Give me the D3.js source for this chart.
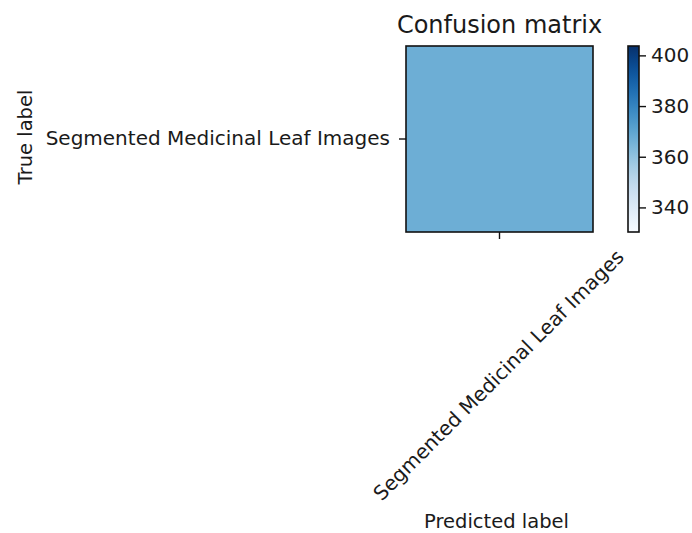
<!DOCTYPE html>
<html>
<head>
<meta charset="utf-8">
<script src="https://cdn.jsdelivr.net/npm/d3@7"></script>
<style>
  body { margin: 0; background: #fff; }
  text { font-family: "DejaVu Sans", sans-serif; fill: #1a1a1a; }
</style>
</head>
<body>
<div id="viz"></div>
<script>
// data
const classes = ['Segmented Medicinal Leaf Images'];
const matrix = [[367]];
const cbarTicks = [340, 360, 380, 400];

const width = 692;
const height = 533;
const tickFont = 20;
const tickLen = 7;

const svg = d3.select('#viz')
      .append('svg')
      .attr('width', width)
      .attr('height', height);

// plot box
const boxL = 406, boxR = 593, boxT = 46, boxB = 232;

const x = d3.scaleBand().domain(classes).range([boxL, boxR]);
const y = d3.scaleBand().domain(classes).range([boxT, boxB]);

// colour range like matplotlib's colorbar for a single value (+-10%)
const allVals = matrix.flat();
let vmin = d3.min(allVals), vmax = d3.max(allVals);
if (vmin === vmax) {
    vmin -= 0.1 * Math.abs(vmin);
    vmax += 0.1 * Math.abs(vmax);
}
const color = d3.scaleSequential(d3.interpolateBlues).domain([vmin, vmax]);

const cells = [];
matrix.forEach((row, i) => row.forEach((v, j) => cells.push({ t: classes[i], p: classes[j], v })));

svg.append('g').selectAll('rect')
    .data(cells)
    .join('rect')
    .attr('x', d => x(d.p))
    .attr('y', d => y(d.t))
    .attr('width', x.bandwidth())
    .attr('height', y.bandwidth())
    .attr('fill', d => color(d.v));

svg.append('rect')
    .attr('x', boxL).attr('y', boxT)
    .attr('width', boxR - boxL).attr('height', boxB - boxT)
    .attr('fill', 'none')
    .attr('stroke', '#111')
    .attr('stroke-width', 1.6);

// y axis
const yAxis = svg.append('g')
      .attr('transform', `translate(${boxL},0)`)
      .call(d3.axisLeft(y).tickSize(tickLen).tickPadding(9));
yAxis.select('.domain').remove();
yAxis.selectAll('line').attr('stroke', '#111').attr('stroke-width', 1.4);
yAxis.selectAll('text')
    .style('font-family', '"DejaVu Sans", sans-serif')
    .style('font-size', tickFont + 'px')
    .attr('fill', '#1a1a1a');

// x axis with labels rotated 45, bbox centered under the tick
const xAxis = svg.append('g')
      .attr('transform', `translate(0,${boxB})`)
      .call(d3.axisBottom(x).tickSize(tickLen));
xAxis.select('.domain').remove();
xAxis.selectAll('line').attr('stroke', '#111').attr('stroke-width', 1.4);
xAxis.selectAll('text')
    .style('font-family', '"DejaVu Sans", sans-serif')
    .style('font-size', tickFont + 'px')
    .attr('fill', '#1a1a1a')
    .each(function () {
        const t = d3.select(this);
        const w = this.getComputedTextLength();
        const h = tickFont * 1.16;
        const half = (w + h) / (2 * Math.SQRT2);
        const cy = tickLen + 6 + half;
        t.attr('x', 0).attr('y', 0).attr('dy', null)
         .attr('text-anchor', 'middle')
         .attr('dominant-baseline', 'central')
         .attr('transform', `translate(-1,${cy}) rotate(-45)`);
    });

// colorbar
const cbLeft = 628, cbWidth = 11;
const cbY = d3.scaleLinear().domain([vmin, vmax]).range([boxB, boxT]);

const defs = svg.append('defs');
const grad = defs.append('linearGradient')
      .attr('id', 'cbar')
      .attr('x1', 0).attr('y1', 1).attr('x2', 0).attr('y2', 0);
d3.range(0, 1.0001, 0.05).forEach(s => {
    grad.append('stop')
        .attr('offset', s)
        .attr('stop-color', d3.interpolateBlues(s));
});

svg.append('rect')
    .attr('x', cbLeft).attr('y', boxT)
    .attr('width', cbWidth).attr('height', boxB - boxT)
    .attr('fill', 'url(#cbar)')
    .attr('stroke', '#111')
    .attr('stroke-width', 1.6);

const cAxis = svg.append('g')
      .attr('transform', `translate(${cbLeft + cbWidth},0)`)
      .call(d3.axisRight(cbY).tickValues(cbarTicks).tickSize(tickLen).tickPadding(5));
cAxis.select('.domain').remove();
cAxis.selectAll('line').attr('stroke', '#111').attr('stroke-width', 1.4);
cAxis.selectAll('text')
    .style('font-family', '"DejaVu Sans", sans-serif')
    .style('font-size', tickFont + 'px')
    .attr('fill', '#1a1a1a');

// titles
svg.append('text')
    .attr('x', (boxL + boxR) / 2)
    .attr('y', 33)
    .attr('text-anchor', 'middle')
    .style('font-size', '24px')
    .text('Confusion matrix');

svg.append('text')
    .attr('x', (boxL + boxR) / 2 - 3)
    .attr('y', 528)
    .attr('text-anchor', 'middle')
    .style('font-size', '19.5px')
    .text('Predicted label');

svg.append('text')
    .attr('transform', `translate(32,${(boxT + boxB) / 2 - 2}) rotate(-90)`)
    .attr('text-anchor', 'middle')
    .style('font-size', '19.5px')
    .text('True label');
</script>
</body>
</html>
